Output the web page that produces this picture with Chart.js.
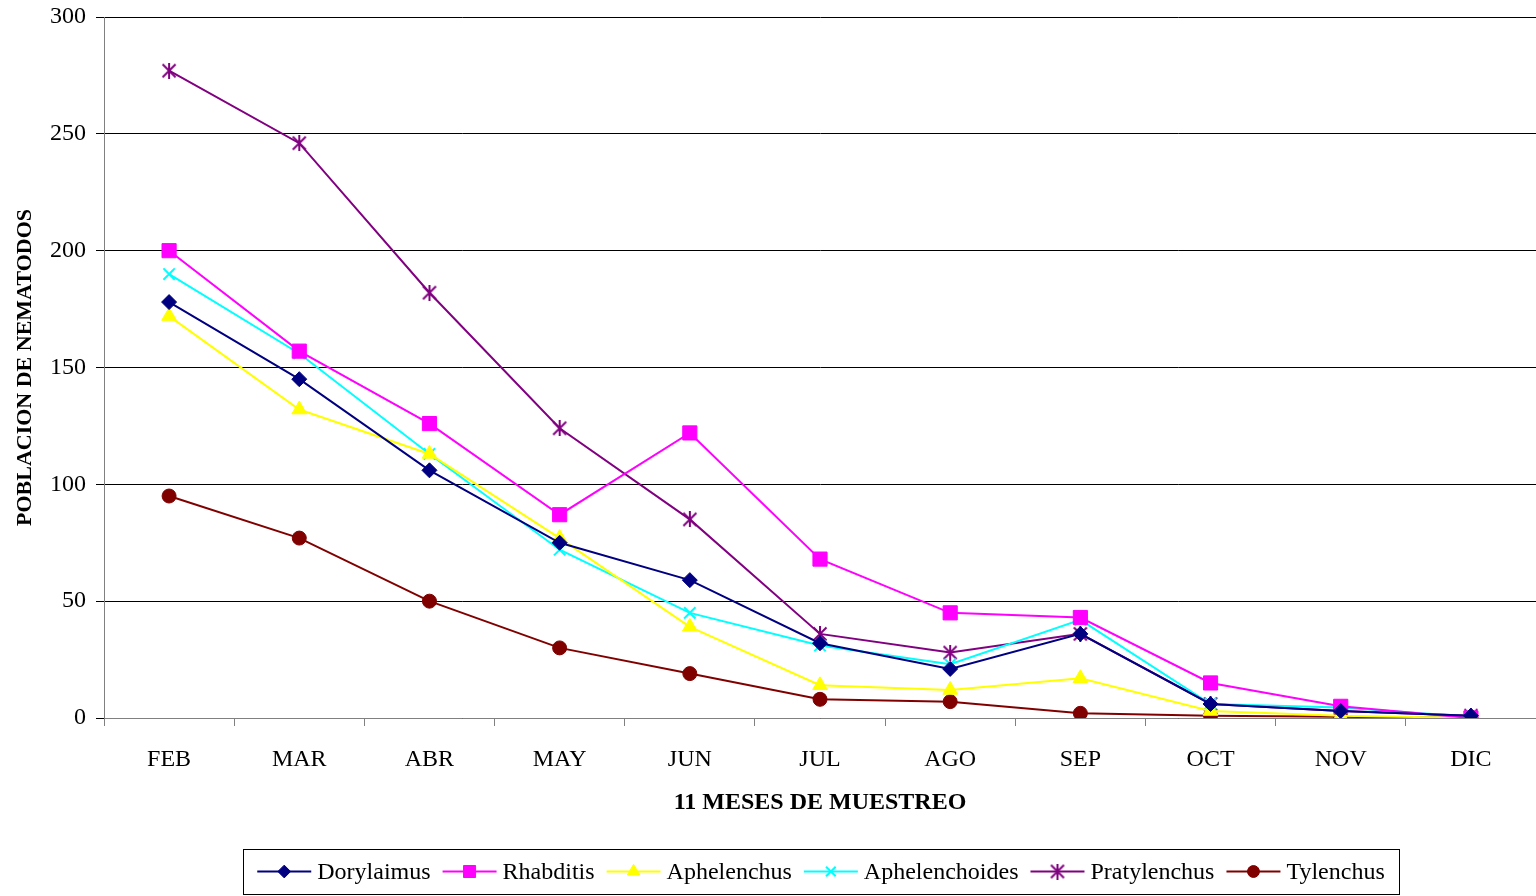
<!DOCTYPE html>
<html>
<head>
<meta charset="utf-8">
<script src="https://cdn.jsdelivr.net/npm/chart.js@4"></script>
<style>
    html, body { margin: 0; padding: 0; background: #fff; overflow: hidden; }
    canvas { display: block; }
</style>
</head>
<body>
<canvas id="chart" width="1536" height="896"></canvas>
<script>
    // months sampled
    const months = ['FEB', 'MAR', 'ABR', 'MAY', 'JUN', 'JUL', 'AGO', 'SEP', 'OCT', 'NOV', 'DIC'];

    // nematode counts per genus
    const dorylaimus     = [178, 145, 106, 75, 59, 32, 21, 36, 6, 3, 1];
    const rhabditis      = [200, 157, 126, 87, 122, 68, 45, 43, 15, 5, 0];
    const aphelenchus    = [172, 132, 113, 77, 39, 14, 12, 17, 3, 1, 0];
    const aphelenchoides = [190, 156, 113, 72, 45, 31, 23, 42, 6, 4.5, 0.5];
    const pratylenchus   = [277, 246, 182, 124, 85, 36, 28, 36, 6, 3, 1];
    const tylenchus      = [95, 77, 50, 30, 19, 8, 7, 2, 1, 0.5, 0];

    const yTicks = [0, 50, 100, 150, 200, 250, 300];

    const serif = "'Liberation Serif', 'Times New Roman', serif";

    // excel-like asterisk marker: an X with a vertical bar
    function asterisk(color, size) {
        const c = document.createElement('canvas');
        c.width = size;
        c.height = size;
        const g = c.getContext('2d');
        g.strokeStyle = color;
        g.lineWidth = 2;
        const m = 1.5, h = size / 2;
        g.beginPath();
        g.moveTo(m, m); g.lineTo(size - m, size - m);
        g.moveTo(size - m, m); g.lineTo(m, size - m);
        g.moveTo(h, 0); g.lineTo(h, size);
        g.stroke();
        return c;
    }

    function series(label, data, color, style, radius, pbw) {
        return {
            label: label,
            data: data,
            borderColor: color,
            backgroundColor: color,
            borderWidth: 2,
            pointStyle: style,
            pointRadius: radius,
            pointBorderWidth: pbw,
            pointBackgroundColor: color,
            pointBorderColor: color,
            tension: 0
        };
    }

    // legend drawn by hand: line sample with marker, boxed
    const boxLegend = {
        id: 'boxLegend',
        afterDraw(chart) {
            const ctx = chart.ctx;
            const left = 243, top = 849, right = 1399, bottom = 894;
            ctx.save();
            ctx.strokeStyle = '#000';
            ctx.lineWidth = 1;
            ctx.strokeRect(left + 0.5, top + 0.5, right - left, bottom - top);

            ctx.font = '24px ' + serif;
            ctx.textBaseline = 'middle';
            const sampleW = 54, gapText = 6, gapItem = 12;
            const items = chart.data.datasets.map(ds => ({ ds: ds, w: sampleW + gapText + ctx.measureText(ds.label).width }));
            const total = items.reduce((a, it) => a + it.w, 0) + gapItem * (items.length - 1);
            let x = (left + right) / 2 - total / 2;
            const y = (top + bottom) / 2;
            items.forEach(it => {
                const ds = it.ds;
                ctx.strokeStyle = ds.borderColor;
                ctx.fillStyle = ds.borderColor;
                ctx.lineWidth = 2;
                ctx.beginPath();
                ctx.moveTo(x, y);
                ctx.lineTo(x + sampleW, y);
                ctx.stroke();
                ctx.lineWidth = ds.pointBorderWidth;
                Chart.helpers.drawPoint(ctx, {
                    pointStyle: ds.pointStyle,
                    radius: ds.pointRadius * 0.85,
                    rotation: 0,
                    borderWidth: ds.pointBorderWidth
                }, x + sampleW / 2, y);
                ctx.fillStyle = '#000';
                ctx.fillText(ds.label, x + sampleW + gapText, y + 1);
                x += it.w + gapItem;
            });
            ctx.restore();
        }
    };

    const ctx = document.getElementById('chart').getContext('2d');
    new Chart(ctx, {
        type: 'line',
        data: {
            labels: months,
            datasets: [
                series('Dorylaimus', dorylaimus, '#000080', 'rectRot', 7.5, 1),
                series('Rhabditis', rhabditis, '#FF00FF', 'rect', 10, 1),
                series('Aphelenchus', aphelenchus, '#FFFF00', 'triangle', 8.5, 1),
                series('Aphelenchoides', aphelenchoides, '#00FFFF', 'crossRot', 8, 2),
                series('Pratylenchus', pratylenchus, '#800080', asterisk('#800080', 16), 8, 2),
                series('Tylenchus', tylenchus, '#800000', 'circle', 7, 1)
            ]
        },
        options: {
            responsive: false,
            animation: false,
            layout: { autoPadding: false, padding: { top: 17, right: 0, left: 0, bottom: 0 } },
            plugins: {
                legend: { display: false },
                tooltip: { enabled: false }
            },
            scales: {
                x: {
                    offset: true,
                    grid: {
                        display: true,
                        drawOnChartArea: false,
                        offset: true,
                        tickLength: 8,
                        color: '#808080'
                    },
                    border: { color: '#808080', width: 1 },
                    ticks: { color: '#000', padding: 19, font: { family: serif, size: 24 } },
                    title: {
                        display: true,
                        text: '11 MESES DE MUESTREO',
                        color: '#000',
                        font: { family: serif, size: 24, weight: 'bold' },
                        padding: { top: 0, bottom: 79 }
                    },
                    afterFit: s => {
                        s.height = 178;
                        s.paddingLeft = 0;
                        s.paddingRight = 0;
                    }
                },
                y: {
                    min: 0,
                    max: 300,
                    afterBuildTicks: s => { s.ticks = yTicks.map(v => ({ value: v })); },
                    grid: { color: '#000', tickLength: 8, lineWidth: 1 },
                    border: { color: '#808080', width: 1 },
                    ticks: { color: '#000', padding: 10, font: { family: serif, size: 24 } },
                    title: {
                        display: true,
                        text: 'POBLACION DE NEMATODOS',
                        color: '#000',
                        font: { family: serif, size: 22, weight: 'bold' },
                        padding: { top: 12, bottom: 0 }
                    },
                    afterFit: s => {
                        s.width = 104;
                        s.paddingTop = 0;
                        s.paddingBottom = 0;
                    }
                }
            }
        },
        plugins: [boxLegend]
    });
</script>
</body>
</html>
